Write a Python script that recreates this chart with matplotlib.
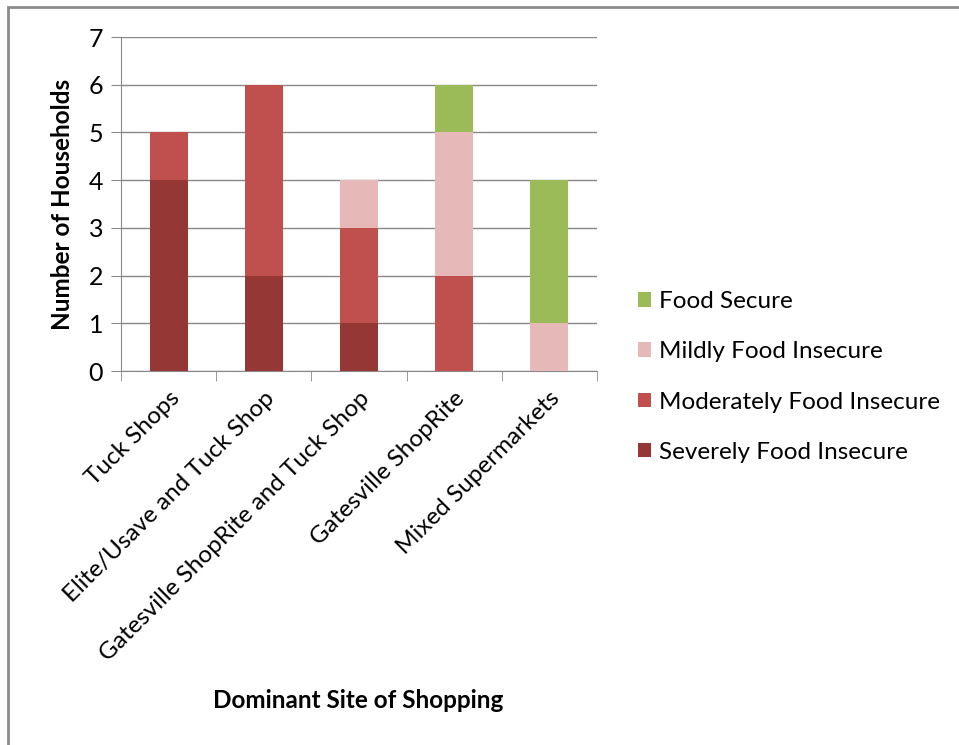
import matplotlib.pyplot as plt
import matplotlib.patches as mpatches
import numpy as np

sites = ["Tuck Shops", "Elite/Usave and Tuck Shop", "Gatesville ShopRite and Tuck Shop",
         "Gatesville ShopRite", "Mixed Supermarkets"]
severe = [4, 2, 1, 0, 0]
moderate = [1, 4, 2, 2, 0]
mild = [0, 0, 1, 3, 1]
secure = [0, 0, 0, 1, 3]

plt.rcParams['font.family'] = ['Lato', 'DejaVu Sans']

fig = plt.figure(figsize=(9.59, 7.45), dpi=100)
ax = fig.add_axes([0.1262, 0.502, 0.4963, 0.4483])

x = np.arange(len(sites))
w = 0.4
b1 = np.array(severe)
b2 = b1 + np.array(moderate)
b3 = b2 + np.array(mild)
h1 = ax.bar(x, severe, w, color="#953735", label="Severely Food Insecure", zorder=3)
h2 = ax.bar(x, moderate, w, bottom=b1, color="#C0504D", label="Moderately Food Insecure", zorder=3)
h3 = ax.bar(x, mild, w, bottom=b2, color="#E6B9B8", label="Mildly Food Insecure", zorder=3)
h4 = ax.bar(x, secure, w, bottom=b3, color="#9BBB59", label="Food Secure", zorder=3)

ax.set_xlim(-0.5, len(sites) - 0.5)
ax.set_ylim(0, 7)
ax.set_yticks(range(8))
ax.yaxis.grid(True, color="#898989", linewidth=1, zorder=0)
for s in ["top", "right"]:
    ax.spines[s].set_visible(False)
ax.spines["left"].set_color("#898989")
ax.spines["bottom"].set_color("#898989")
ax.tick_params(axis="y", length=7, color="#898989", labelsize=18, pad=6)
ax.set_xticks(x)
ax.set_xticklabels(sites, rotation=45, ha="right", rotation_mode="anchor", fontsize=17.5)
ax.set_xticks(np.arange(-0.5, len(sites)), minor=True)
ax.tick_params(axis="x", which="major", length=0, pad=12)
ax.tick_params(axis="x", which="minor", length=7, color="#898989")

ax.set_ylabel("Number of Households", fontsize=17.5, fontweight="bold", labelpad=10)
fig.text(0.374, 0.06, "Dominant Site of Shopping", fontsize=17.5, fontweight="bold",
         ha="center", va="center")

fig.legend(handles=[h4, h3, h2, h1], loc="center left", bbox_to_anchor=(0.642, 0.494),
           frameon=False, fontsize=17.5, labelspacing=1.2, handlelength=0.55,
           handleheight=0.55, handletextpad=0.35)

fig.patches.append(mpatches.Rectangle((0.0085, -0.1), 1.2, 1.0906,
                                      transform=fig.transFigure, fill=False,
                                      edgecolor="#8c8c8c", linewidth=2))

fig.savefig("out.png")
